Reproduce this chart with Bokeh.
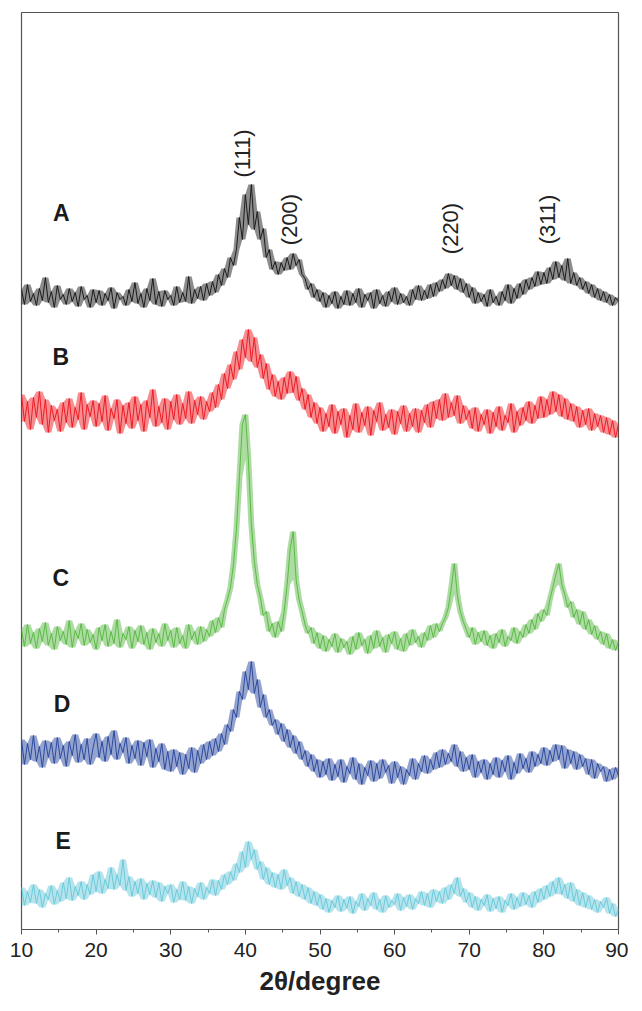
import numpy as np
from bokeh.plotting import figure
from bokeh.models import Range1d, FixedTicker, Label
from bokeh.embed import file_html
from bokeh.resources import INLINE

# 2theta sampling grid (degrees)
two_theta = np.linspace(10, 90, 201)

# intensities (a.u., already stacked) at 0.4 degree steps
A = [640, 625, 645, 628, 636, 624, 641, 629, 652, 627, 638, 622, 644, 630, 635,
     625, 641, 628, 637, 623, 643, 630, 634, 622, 640, 627, 639, 624, 636, 629,
     642, 621, 637, 630, 633, 624, 640, 628, 647, 626, 636, 622, 641, 629, 651,
     625, 638, 623, 639, 630, 634, 624, 643, 627, 637, 628, 653, 626, 640, 631,
     643, 629, 646, 634, 648, 637, 655, 644, 661, 652, 672, 664, 680, 712, 690,
     735, 705, 745, 700, 718, 690, 701, 672, 680, 660, 668, 655, 667, 659, 672,
     660, 676, 664, 670, 655, 651, 640, 646, 632, 640, 628, 637, 622, 634, 626,
     638, 621, 633, 625, 639, 624, 636, 627, 641, 622, 635, 629, 637, 621, 640,
     626, 634, 623, 638, 628, 642, 625, 636, 627, 633, 624, 640, 630, 644, 629,
     639, 631, 645, 633, 647, 638, 650, 641, 656, 644, 654, 640, 651, 637, 646,
     632, 642, 626, 637, 628, 635, 623, 640, 627, 633, 624, 638, 629, 645, 626,
     641, 631, 646, 635, 650, 640, 652, 643, 658, 645, 657, 646, 662, 650, 668,
     652, 664, 649, 671, 646, 657, 644, 652, 640, 648, 636, 645, 632, 641, 629,
     638, 627, 635, 624, 632, 628]
B = [535, 508, 528, 500, 532, 512, 538, 505, 530, 497, 524, 509, 520, 498, 527,
     507, 531, 502, 522, 510, 537, 500, 525, 513, 529, 503, 526, 508, 534, 499,
     521, 511, 530, 496, 524, 506, 527, 501, 533, 509, 525, 498, 529, 512, 540,
     503, 523, 507, 531, 500, 528, 510, 535, 505, 526, 511, 538, 506, 529, 515,
     533, 510, 528, 518, 537, 522, 545, 530, 556, 541, 565, 550, 578, 560, 590,
     572, 600, 568, 592, 562, 575, 551, 566, 540, 555, 533, 548, 530, 552, 536,
     558, 537, 553, 529, 541, 520, 535, 512, 527, 506, 522, 498, 516, 503, 525,
     496, 518, 505, 521, 492, 514, 500, 526, 497, 517, 504, 523, 494, 519, 508,
     527, 499, 515, 502, 520, 495, 518, 506, 524, 498, 516, 503, 521, 497, 519,
     507, 525, 502, 528, 511, 530, 509, 536, 512, 527, 514, 534, 506, 524, 510,
     519, 501, 522, 498, 515, 505, 520, 496, 517, 503, 523, 499, 514, 507, 526,
     497, 518, 504, 522, 509, 528, 506, 524, 511, 533, 512, 530, 515, 538, 518,
     535, 513, 531, 510, 526, 508, 523, 502, 519, 505, 521, 499, 516, 503, 514,
     497, 512, 495, 509, 492, 505]
C = [300, 283, 305, 286, 297, 281, 301, 288, 307, 284, 296, 280, 303, 289, 298,
     285, 309, 282, 299, 291, 306, 284, 300, 287, 295, 280, 302, 289, 305, 283,
     298, 286, 310, 282, 296, 290, 303, 281, 299, 288, 304, 285, 297, 280, 301,
     287, 296, 283, 306, 289, 299, 282, 302, 286, 294, 281, 305, 290, 298, 285,
     303, 288, 300, 293, 309, 297, 312, 302, 320, 330, 342, 365, 400, 452, 505,
     515, 470, 405, 368, 345, 332, 314, 318, 298, 306, 292, 308, 298, 318, 345,
     380, 398, 350, 330, 318, 305, 296, 302, 286, 297, 281, 294, 278, 290, 283,
     296, 277, 291, 282, 288, 275, 293, 280, 297, 284, 290, 276, 294, 281, 299,
     283, 292, 277, 295, 286, 298, 280, 291, 278, 296, 284, 300, 287, 293, 282,
     297, 289, 304, 292, 306, 298, 306, 312, 322, 342, 366, 335, 318, 308, 300,
     292, 302, 285, 297, 288, 299, 284, 294, 281, 296, 287, 300, 283, 293, 289,
     302, 286, 298, 292, 305, 296, 310, 300, 316, 308, 320, 314, 330, 342, 355,
     366, 345, 335, 322, 328, 312, 320, 305, 318, 300, 310, 295, 304, 290, 298,
     285, 296, 281, 290, 279, 288]
D = [190, 165, 186, 170, 194, 168, 183, 162, 189, 172, 187, 166, 192, 171, 184,
     163, 188, 174, 195, 167, 185, 170, 191, 165, 182, 196, 172, 188, 168, 193,
     175, 199, 170, 186, 177, 192, 166, 184, 171, 189, 164, 187, 173, 190, 162,
     181, 168, 186, 160, 178, 158, 180, 163, 177, 155, 175, 161, 182, 157, 179,
     166, 185, 170, 188, 174, 191, 178, 196, 185, 205, 198, 220, 212, 238, 230,
     258, 240, 268, 236, 250, 222, 235, 212, 220, 204, 210, 195, 206, 188, 200,
     182, 194, 176, 188, 170, 179, 163, 175, 158, 170, 152, 168, 155, 171, 149,
     165, 153, 170, 147, 163, 156, 172, 150, 166, 145, 162, 154, 169, 148, 166,
     151, 170, 157, 164, 146, 168, 152, 163, 145, 160, 154, 171, 150, 166, 158,
     174, 156, 170, 160, 177, 162, 180, 165, 176, 168, 185, 163, 178, 158, 172,
     160, 175, 152, 168, 157, 170, 150, 166, 155, 172, 152, 169, 158, 174, 150,
     167, 156, 176, 161, 171, 157, 178, 163, 175, 166, 182, 164, 179, 168, 185,
     170, 184, 161, 180, 166, 178, 160, 175, 163, 171, 155, 170, 151, 166, 158,
     163, 148, 160, 150, 162, 154]
E = [42, 24, 38, 27, 45, 26, 40, 22, 36, 30, 44, 25, 39, 28, 47,
     31, 52, 29, 43, 34, 48, 30, 45, 35, 55, 38, 58, 36, 50, 41,
     62, 40, 55, 44, 70, 39, 53, 33, 48, 36, 51, 30, 46, 35, 49,
     32, 47, 28, 43, 36, 45, 27, 40, 30, 48, 29, 43, 26, 41, 33,
     47, 30, 42, 36, 50, 34, 49, 40, 55, 45, 58, 49, 66, 57, 78,
     62, 88, 70, 80, 60, 68, 50, 62, 45, 57, 42, 55, 40, 60, 44,
     52, 36, 48, 33, 45, 30, 42, 26, 38, 24, 35, 20, 31, 17, 29,
     22, 34, 18, 30, 21, 33, 16, 28, 23, 36, 19, 31, 24, 37, 20,
     30, 17, 34, 22, 29, 25, 36, 19, 32, 23, 35, 20, 31, 26, 38,
     24, 36, 22, 40, 28, 38, 26, 42, 30, 45, 36, 52, 33, 41, 27,
     37, 22, 33, 19, 30, 24, 35, 18, 31, 21, 33, 17, 29, 24, 36,
     20, 32, 23, 37, 25, 34, 22, 38, 27, 41, 30, 44, 33, 48, 36,
     52, 35, 45, 31, 47, 28, 40, 24, 37, 22, 34, 20, 30, 17, 28,
     22, 32, 16, 26, 13, 20]

series_names = ["A", "B", "C", "D", "E"]
series_colors = ["#1c1c1c", "#ec1c24", "#5cb947", "#2c4a9e", "#6ccadb"]
name_x = [15.33, 15.27, 15.27, 15.42, 15.6]
name_y = [717, 573, 352, 226, 89]

peak_labels = ["(111)", "(200)", "(220)", "(311)"]
peak_x = [39.56, 45.9, 67.5, 80.45]
peak_y = [776, 710, 701, 710]

x_ticks = [10, 20, 30, 40, 50, 60, 70, 80, 90]
x_minor = [15, 25, 35, 45, 55, 65, 75, 85]

p = figure(width=628, height=1008, x_range=Range1d(10, 90), y_range=Range1d(0, 917),
           output_backend="svg", toolbar_location=None,
           min_border_left=21, min_border_right=10, min_border_top=12, min_border_bottom=79)

for ys, col in zip([A, B, C, D, E], series_colors):
    arr = np.array(ys, dtype=float)
    padded = np.concatenate([[arr[0]], arr, [arr[-1]]])
    lo = np.minimum(np.minimum(padded[:-2], padded[1:-1]), padded[2:])
    hi = np.maximum(np.maximum(padded[:-2], padded[1:-1]), padded[2:])
    p.varea(x=two_theta, y1=lo, y2=hi, fill_color=col, fill_alpha=0.5)
    p.line(two_theta, arr, line_color=col, line_width=1.0)

for t, x, y in zip(series_names, name_x, name_y):
    p.add_layout(Label(x=x, y=y, text=t, text_font="Liberation Sans", text_font_style="bold",
                       text_font_size="23px", text_color="#1a1a1a",
                       text_align="center", text_baseline="middle"))

for t, x, y in zip(peak_labels, peak_x, peak_y):
    p.add_layout(Label(x=x, y=y, text=t, text_font="Liberation Sans", text_font_size="22px",
                       text_color="#222222", angle=np.pi / 2,
                       text_align="center", text_baseline="middle"))

p.xgrid.grid_line_color = None
p.ygrid.grid_line_color = None
p.yaxis.visible = False
p.outline_line_color = "#555555"
p.outline_line_width = 1.2

ax = p.xaxis[0]
ax.ticker = FixedTicker(ticks=x_ticks, minor_ticks=x_minor)
ax.axis_line_color = "#555555"
ax.axis_line_width = 1.2
ax.major_tick_line_color = "#555555"
ax.minor_tick_line_color = "#555555"
ax.major_tick_in = 0
ax.major_tick_out = 5
ax.minor_tick_in = 0
ax.minor_tick_out = 3
ax.major_label_text_font = "Liberation Sans"
ax.major_label_text_font_size = "21px"
ax.major_label_text_color = "#222222"
ax.major_label_standoff = 8
ax.axis_label = "2θ/degree"
ax.axis_label_text_font = "Liberation Sans"
ax.axis_label_text_font_style = "bold"
ax.axis_label_text_font_size = "26px"
ax.axis_label_text_color = "#222222"
ax.axis_label_standoff = 6

open("out.html", "w").write(file_html(p, INLINE))
